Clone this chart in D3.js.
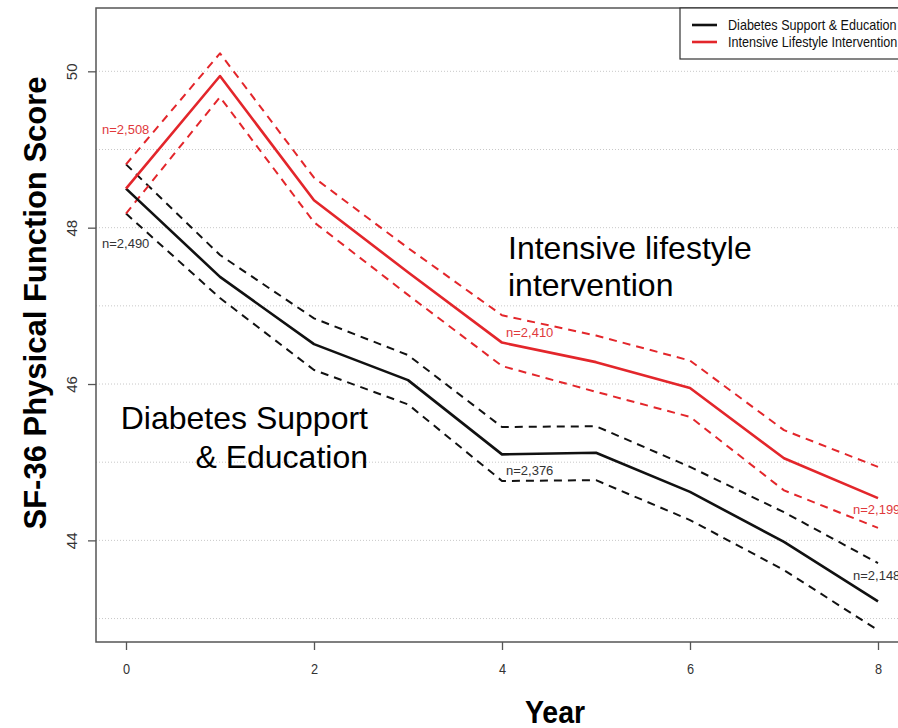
<!DOCTYPE html>
<html>
<head>
<meta charset="utf-8">
<script src="https://cdn.jsdelivr.net/npm/d3@7"></script>
<style>
  body { margin: 0; background: #fff; }
  svg { display: block; font-family: "Liberation Sans", Arial, Helvetica, sans-serif; }
</style>
</head>
<body>
<svg id="chart" width="898" height="728"></svg>
<script>
// SF-36 physical function score by year, two study arms (mean and 95% CI)
const years = [0, 1, 2, 3, 4, 5, 6, 7, 8];

const dseMean  = [48.50, 47.37, 46.51, 46.05, 45.10, 45.12, 44.62, 43.98, 43.22];
const dseUpper = [48.81, 47.65, 46.84, 46.37, 45.45, 45.46, 44.94, 44.36, 43.71];
const dseLower = [48.18, 47.10, 46.18, 45.74, 44.76, 44.77, 44.26, 43.62, 42.85];

const iliMean  = [48.50, 49.94, 48.35, 47.43, 46.53, 46.28, 45.95, 45.05, 44.54];
const iliUpper = [48.81, 50.23, 48.64, 47.74, 46.88, 46.62, 46.30, 45.41, 44.94];
const iliLower = [48.18, 49.67, 48.07, 47.14, 46.23, 45.90, 45.58, 44.64, 44.16];

const seriesNames = ["Diabetes Support & Education", "Intensive Lifestyle Intervention"];

// sample sizes printed next to the curves
const countYears = [0, 4, 8];
const dseCounts = ["n=2,490", "n=2,376", "n=2,148"];
const iliCounts = ["n=2,508", "n=2,410", "n=2,199"];

const xTicks = [0, 2, 4, 6, 8];
const yTicks = [44, 46, 48, 50];
const gridLevels = [43, 44, 45, 46, 47, 48, 49, 50];

const BLACK = "#111111";
const RED = "#e3262b";

const svg = d3.select("#chart");

// plot frame (right edge runs just past the window)
const frame = { left: 96, top: 8, right: 908, bottom: 642 };

const x = d3.scaleLinear().domain([0, 8]).range([126, 878]);
const y = d3.scaleLinear().domain([42.70, 50.81]).range([frame.bottom, frame.top]);

// dotted horizontal grid
svg.append("g")
  .selectAll("line")
  .data(gridLevels)
  .join("line")
  .attr("x1", frame.left).attr("x2", frame.right)
  .attr("y1", d => y(d)).attr("y2", d => y(d))
  .attr("stroke", "#c8c8c8")
  .attr("stroke-width", 1)
  .attr("stroke-dasharray", "1,2");

// frame
svg.append("rect")
  .attr("x", frame.left).attr("y", frame.top)
  .attr("width", frame.right - frame.left)
  .attr("height", frame.bottom - frame.top)
  .attr("fill", "none")
  .attr("stroke", "#555")
  .attr("stroke-width", 1.5);

// y axis
const yAxis = svg.append("g")
  .attr("transform", `translate(${frame.left},0)`)
  .call(d3.axisLeft(y).tickValues(yTicks).tickSize(8).tickFormat(d3.format("d")));
yAxis.select(".domain").remove();
yAxis.selectAll(".tick line").attr("stroke", "#555").attr("stroke-width", 1.3);
yAxis.selectAll(".tick text")
  .attr("x", null).attr("dy", null)
  .attr("transform", "translate(-19,0) rotate(-90)")
  .attr("text-anchor", "middle")
  .attr("fill", "#333")
  .attr("font-size", 15)
  .attr("font-family", "'Liberation Sans', Arial, sans-serif");

// x axis
const xAxis = svg.append("g")
  .attr("transform", `translate(0,${frame.bottom})`)
  .call(d3.axisBottom(x).tickValues(xTicks).tickSize(8).tickFormat(d3.format("d")));
xAxis.select(".domain").remove();
xAxis.selectAll(".tick line").attr("stroke", "#555").attr("stroke-width", 1.3);
xAxis.selectAll(".tick text")
  .attr("y", null).attr("dy", null)
  .attr("transform", "translate(0,32) scale(0.85,1)")
  .attr("text-anchor", "middle")
  .attr("fill", "#333")
  .attr("font-size", 15)
  .attr("font-family", "'Liberation Sans', Arial, sans-serif");

// curves
const line = d3.line()
  .x((d, i) => x(years[i]))
  .y(d => y(d));

const curves = [
  { values: dseUpper, color: BLACK, dash: "8,6", width: 2 },
  { values: dseLower, color: BLACK, dash: "8,6", width: 2 },
  { values: iliUpper, color: RED, dash: "8,6", width: 2 },
  { values: iliLower, color: RED, dash: "8,6", width: 2 },
  { values: dseMean, color: BLACK, dash: null, width: 2.6 },
  { values: iliMean, color: RED, dash: null, width: 2.6 }
];

svg.append("g")
  .selectAll("path")
  .data(curves)
  .join("path")
  .attr("d", c => line(c.values))
  .attr("fill", "none")
  .attr("stroke", c => c.color)
  .attr("stroke-width", c => c.width)
  .attr("stroke-dasharray", c => c.dash)
  .attr("stroke-linejoin", "round");

// sample-size labels, placed relative to each mean point
const dseOffsets = [[-24, 56], [4, 17], [-25, -25]];
const iliOffsets = [[-24, -58], [4, -9], [-25, 12]];

function countLabels(labels, means, offsets, color) {
  svg.append("g")
    .selectAll("text")
    .data(labels)
    .join("text")
    .attr("x", (d, i) => x(countYears[i]) + offsets[i][0])
    .attr("y", (d, i) => y(means[countYears[i]]) + offsets[i][1])
    .attr("dominant-baseline", "middle")
    .attr("fill", color)
    .style("font-size", "13px")
    .text(d => d);
}
countLabels(dseCounts, dseMean, dseOffsets, "#333");
countLabels(iliCounts, iliMean, iliOffsets, "#e0393c");

// legend (top-right, inset against the frame)
const legend = svg.append("g");
legend.append("rect")
  .attr("x", 680).attr("y", frame.top)
  .attr("width", frame.right - 680).attr("height", 51)
  .attr("fill", "#fff")
  .attr("stroke", "#333")
  .attr("stroke-width", 1.2);
const legendColors = [BLACK, RED];
seriesNames.forEach((name, i) => {
  const ly = 25 + i * 17;
  legend.append("line")
    .attr("x1", 692).attr("x2", 717)
    .attr("y1", ly).attr("y2", ly)
    .attr("stroke", legendColors[i])
    .attr("stroke-width", 2.6);
  legend.append("text")
    .attr("transform", `translate(728,${ly + 5}) scale(0.9,1)`)
    .attr("fill", "#111")
    .style("font-size", "14px")
    .text(name);
});

// axis titles
svg.append("text")
  .attr("transform", "translate(46,303) rotate(-90)")
  .attr("text-anchor", "middle")
  .attr("fill", "#000")
  .style("font-size", "31px")
  .style("font-weight", "bold")
  .text("SF-36 Physical Function Score");

svg.append("text")
  .attr("transform", "translate(555,723) scale(0.92,1)")
  .attr("text-anchor", "middle")
  .attr("fill", "#000")
  .style("font-size", "31px")
  .style("font-weight", "bold")
  .text("Year");

// arm annotations
const annot = svg.append("g").attr("fill", "#000").style("font-size", "32px");
annot.append("text").attr("x", 508).attr("y", 259).text("Intensive lifestyle");
annot.append("text").attr("x", 508).attr("y", 296).text("intervention");
annot.append("text").attr("x", 368).attr("y", 429).attr("text-anchor", "end").text("Diabetes Support");
annot.append("text").attr("x", 368).attr("y", 468).attr("text-anchor", "end").text("& Education");
</script>
</body>
</html>
